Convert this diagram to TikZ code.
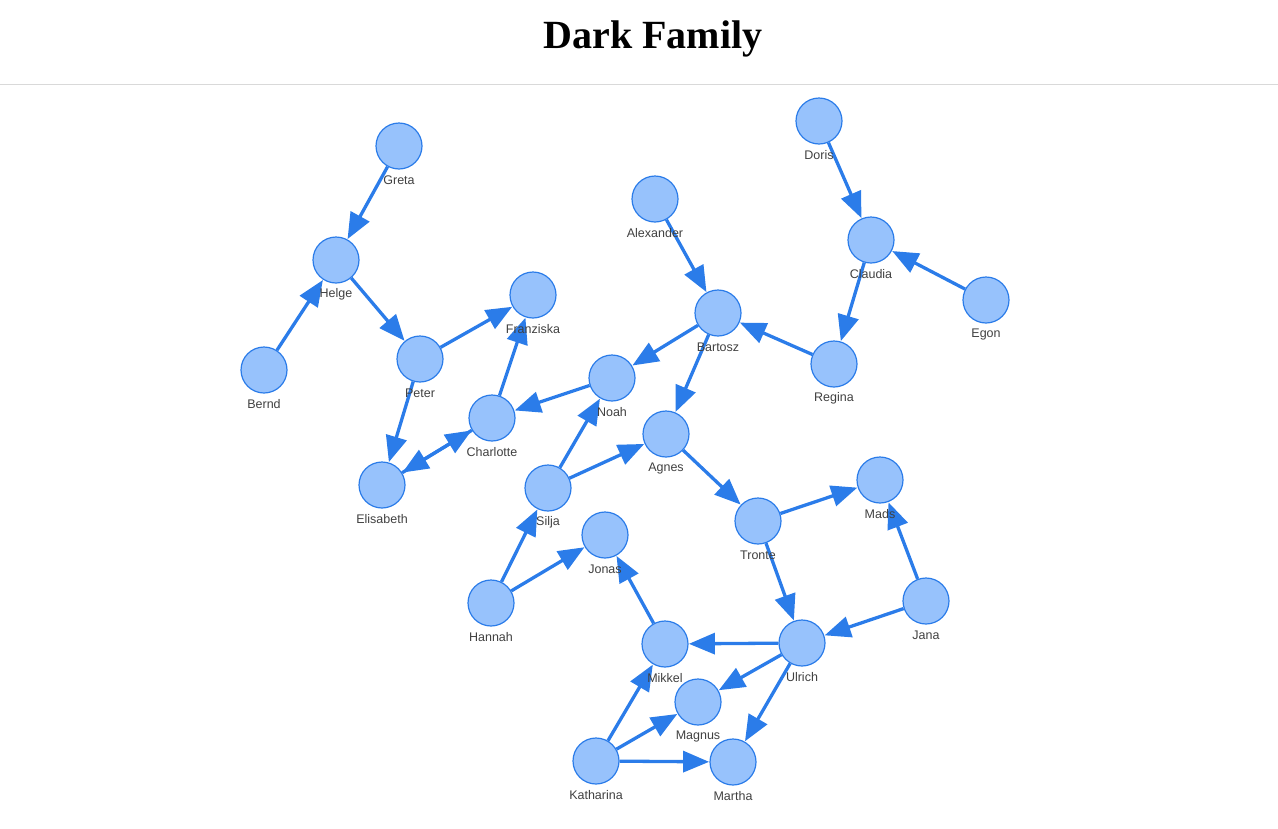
\documentclass[tikz,border=0pt]{standalone}
\usepackage{fontspec}
\setmainfont{Liberation Sans}
\newfontfamily\titlefont{Liberation Serif}
\usetikzlibrary{arrows.meta}
\definecolor{nodefill}{HTML}{97C2FC}
\definecolor{nodeline}{HTML}{2B7CE9}
\definecolor{labelcol}{HTML}{404040}
\definecolor{rulecol}{HTML}{D9D9D9}
\tikzset{
  person/.style={circle, draw=nodeline, fill=nodefill, line width=1.2pt, minimum size=46pt, inner sep=0pt},
  plabel/.style={text=labelcol, font=\fontsize{12.5}{14}\selectfont, inner sep=0pt, anchor=center},
  rel/.style={draw=nodeline, line width=3.3pt, -{Triangle[length=26pt,width=21pt]}, shorten >=0.3pt},
}
\begin{document}
\begin{tikzpicture}[x=1pt,y=-1pt]
\useasboundingbox (0,0) rectangle (1278,828);
\node[font=\titlefont\bfseries\fontsize{40}{44}\selectfont, anchor=base] (title) at (653,48) {Dark Family};
\draw[rulecol, line width=1pt] (0,84) -- (1278,84);
% nodes
\foreach \n/\x/\y in {Greta/399/146, Helge/336/260, Bernd/264/370, Peter/420/359,
  Franziska/533/295, Elisabeth/382/485, Charlotte/492/418, Noah/612/378,
  Alexander/655/199, Bartosz/718/313, Doris/819/121, Claudia/871/240,
  Egon/986/300, Regina/834/364, Agnes/666/434, Silja/548/488, Jonas/605/535,
  Hannah/491/603, Tronte/758/521, Mads/880/480, Jana/926/601, Ulrich/802/643,
  Mikkel/665/644, Magnus/698/702, Katharina/596/761, Martha/733/762}{
  \node[person] (\n) at (\x,\y) {};
}
% edges
\foreach \a/\b in {Greta/Helge, Bernd/Helge, Helge/Peter, Peter/Franziska,
  Peter/Elisabeth, Charlotte/Franziska, Charlotte/Elisabeth, Elisabeth/Charlotte,
  Noah/Charlotte, Silja/Noah, Silja/Agnes, Hannah/Silja, Hannah/Jonas,
  Alexander/Bartosz, Bartosz/Noah, Bartosz/Agnes, Regina/Bartosz,
  Doris/Claudia, Egon/Claudia, Claudia/Regina, Agnes/Tronte, Tronte/Mads,
  Tronte/Ulrich, Jana/Mads, Jana/Ulrich, Ulrich/Mikkel, Ulrich/Magnus,
  Ulrich/Martha, Mikkel/Jonas, Katharina/Mikkel, Katharina/Magnus, Katharina/Martha}{
  \draw[rel] (\a) -- (\b);
}
% labels
\foreach \n in {Greta, Helge, Bernd, Peter, Franziska, Elisabeth, Charlotte, Noah,
  Alexander, Bartosz, Doris, Claudia, Egon, Regina, Agnes, Silja, Jonas,
  Hannah, Tronte, Mads, Jana, Ulrich, Mikkel, Magnus, Katharina, Martha}{
  \node[plabel] (\n-label) at ([yshift=-34.5pt]\n.center) {\n};
}
\end{tikzpicture}
\end{document}
